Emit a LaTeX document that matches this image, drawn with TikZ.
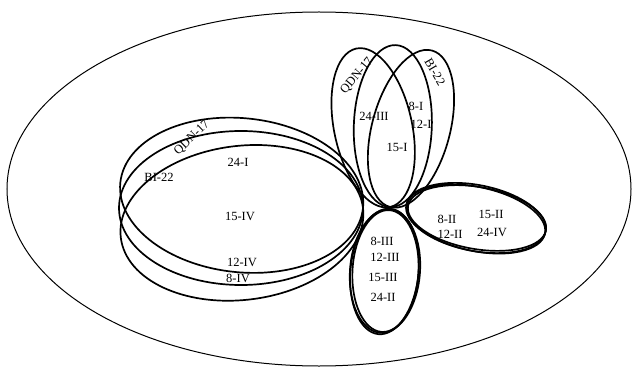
\documentclass[tikz,border=0pt]{standalone}
\usepackage{fontspec}
\setmainfont{Liberation Serif}
\begin{document}
\begin{tikzpicture}[x=1pt,y=-1pt,
  petal/.style={draw=black,line width=1.7pt},
  frame/.style={draw=black,line width=1pt},
  lab/.style={inner sep=0pt,font=\fontsize{12.5}{14}\selectfont}]
\useasboundingbox (0,0) rectangle (637,377);

% outer boundary
\draw[frame] (319,189) ellipse [x radius=312, y radius=177];

% left petals, all meeting at one tip
\coordinate (ltip) at (363,208);
\draw[petal] (241,208) ellipse [x radius=122, y radius=77];
\draw[petal, rotate around={-6:(ltip)}] (241,208) ellipse [x radius=122, y radius=77];
\draw[petal, rotate around={7:(ltip)}] (241,208) ellipse [x radius=122, y radius=77];

% upper petals, all meeting at one tip
\coordinate (ttip) at (390,207);
\draw[petal, rotate around={-2:(ttip)}] (390,126) ellipse [x radius=39, y radius=81];
\draw[petal, rotate around={12:(ttip)}] (390,126) ellipse [x radius=39, y radius=81];
\draw[petal, rotate around={-15:(ttip)}] (390,126) ellipse [x radius=39, y radius=81];

% right petal (three close outlines)
\draw[petal, rotate around={-11:(476,218)}] (476,218) ellipse [x radius=71, y radius=33];
\draw[petal, rotate around={-10:(477,218)}] (477,218) ellipse [x radius=70, y radius=31];
\draw[petal, rotate around={-12:(476,219)}] (476,219) ellipse [x radius=70.5, y radius=32];

% lower petal (three close outlines)
\draw[petal, rotate around={-4.5:(385,271)}] (385,271) ellipse [x radius=35, y radius=62];
\draw[petal, rotate around={-3.5:(385,271)}] (385.5,271) ellipse [x radius=33, y radius=61];
\draw[petal, rotate around={-5.5:(385,271)}] (384.5,271.5) ellipse [x radius=34, y radius=63];

% labels, left petals
\node[lab, rotate=44] (lq) at (192,138) {QDN-17};
\node[lab] (lb) at (159,177) {BI-22};
\node[lab] (l24) at (238,162) {24-I};
\node[lab] (l15) at (240,216) {15-IV};
\node[lab] (l12) at (242,262) {12-IV};
\node[lab] (l8) at (238,278) {8-IV};

% labels, upper petals
\node[lab, rotate=50] (tq) at (357,76) {QDN-17};
\node[lab, rotate=-60] (tb) at (435,72) {BI-22};
\node[lab] (t24) at (374,116) {24-III};
\node[lab] (t8) at (416,106) {8-I};
\node[lab] (t12) at (421,124) {12-I};
\node[lab] (t15) at (397,147) {15-I};

% labels, right petal
\node[lab] (r8) at (447,219) {8-II};
\node[lab] (r12) at (450,234) {12-II};
\node[lab] (r15) at (491,214) {15-II};
\node[lab] (r24) at (492,232) {24-IV};

% labels, lower petal
\node[lab] (b8) at (382,241) {8-III};
\node[lab] (b12) at (385,257) {12-III};
\node[lab] (b15) at (383,277) {15-III};
\node[lab] (b24) at (383,297) {24-II};
\end{tikzpicture}
\end{document}
